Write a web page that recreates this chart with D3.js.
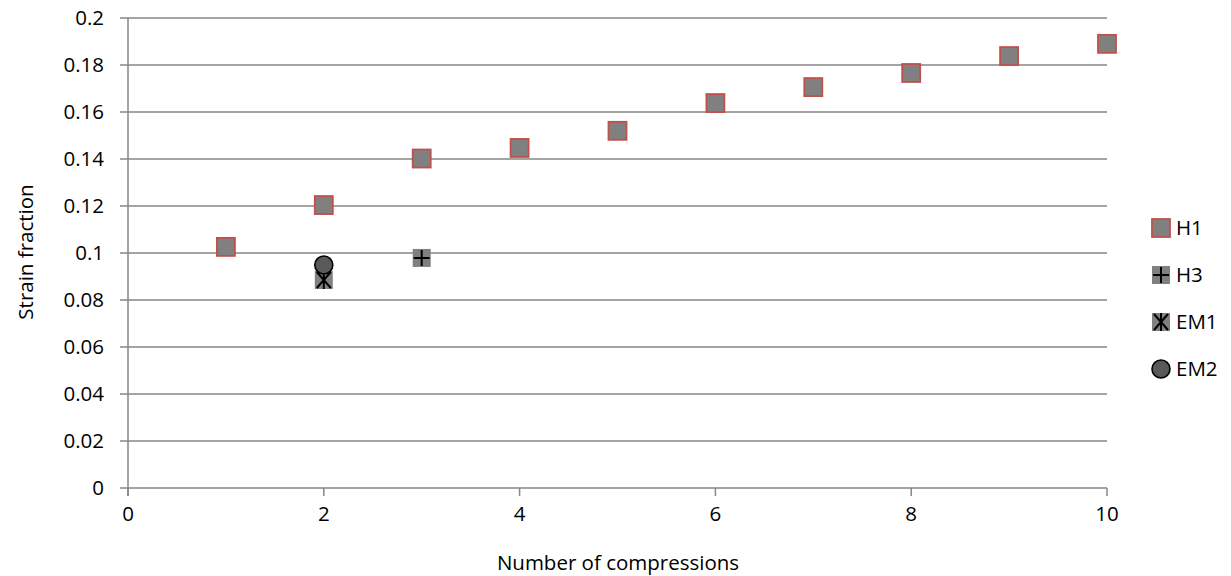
<!DOCTYPE html>
<html>
<head>
<meta charset="utf-8">
<script src="https://cdn.jsdelivr.net/npm/d3@7"></script>
<style>
  body { margin: 0; background: #fff; }
  text { font-family: "Open Sans", "Liberation Sans", sans-serif; fill: #000; }
</style>
</head>
<body>
<svg width="1231" height="576"></svg>
<script>
// data
var h1X = [1, 2, 3, 4, 5, 6, 7, 8, 9, 10];
var h1Y = [0.1026, 0.1204, 0.1402, 0.1447, 0.152, 0.1638, 0.1706, 0.1766, 0.1838, 0.189];
var h3X = [3];
var h3Y = [0.0979];
var em1X = [2];
var em1Y = [0.0885];
var em2X = [2];
var em2Y = [0.0949];
var xTicks = [0, 2, 4, 6, 8, 10];
var yTicks = [0, 0.02, 0.04, 0.06, 0.08, 0.1, 0.12, 0.14, 0.16, 0.18, 0.2];
var seriesNames = ["H1", "H3", "EM1", "EM2"];

var svg = d3.select("svg");
var plotLeft = 128, plotRight = 1107, plotTop = 18, plotBottom = 488;
var fs = 20.5;

var x = d3.scaleLinear().domain([0, 10]).range([plotLeft, plotRight]);
var y = d3.scaleLinear().domain([0, 0.2]).range([plotBottom, plotTop]);

var gridColor = "#868686";

// 横グリッド
svg.append("g").selectAll("line").data(yTicks).enter().append("line")
  .attr("x1", plotLeft - 8).attr("x2", plotRight)
  .attr("y1", function(d) { return y(d); }).attr("y2", function(d) { return y(d); })
  .attr("stroke", gridColor).attr("stroke-width", 1.5);

// y軸
svg.append("line").attr("x1", plotLeft).attr("x2", plotLeft).attr("y1", plotTop).attr("y2", plotBottom + 8)
  .attr("stroke", gridColor).attr("stroke-width", 1.5);

// x目盛り
svg.append("g").selectAll("line").data(xTicks).enter().append("line")
  .attr("x1", function(d) { return x(d); }).attr("x2", function(d) { return x(d); })
  .attr("y1", plotBottom).attr("y2", plotBottom + 8)
  .attr("stroke", gridColor).attr("stroke-width", 1.5);

// 目盛りラベル
svg.append("g").selectAll("text").data(yTicks).enter().append("text")
  .attr("x", plotLeft - 24).attr("y", function(d) { return y(d); })
  .attr("dy", "0.35em").attr("text-anchor", "end").attr("font-size", fs)
  .text(function(d) { return String(+d.toFixed(2)); });

svg.append("g").selectAll("text").data(xTicks).enter().append("text")
  .attr("x", function(d) { return x(d); }).attr("y", plotBottom + 33)
  .attr("text-anchor", "middle").attr("font-size", fs)
  .text(function(d) { return d; });

// 軸タイトル
svg.append("text").attr("x", 618).attr("y", 570)
  .attr("text-anchor", "middle").attr("font-size", fs).text("Number of compressions");
svg.append("text").attr("transform", "translate(33,252) rotate(-90)")
  .attr("text-anchor", "middle").attr("font-size", fs).text("Strain fraction");

// マーカー描画関数
function drawMarker(g, type) {
  if (type === "H1") {
    g.append("rect").attr("x", -9).attr("y", -9).attr("width", 18).attr("height", 18)
      .attr("fill", "#808080").attr("stroke", "#c0504d").attr("stroke-width", 1.8);
  } else if (type === "H3") {
    g.append("rect").attr("x", -9).attr("y", -9).attr("width", 18).attr("height", 18)
      .attr("fill", "#808080");
    g.append("path").attr("d", "M-8,0L8,0M0,-8L0,8").attr("stroke", "#000").attr("stroke-width", 2);
  } else if (type === "EM1") {
    g.append("rect").attr("x", -9).attr("y", -9).attr("width", 18).attr("height", 18)
      .attr("fill", "#808080");
    g.append("path").attr("d", "M-7,-8L7,8M-7,8L7,-8M0,-9L0,9").attr("stroke", "#000").attr("stroke-width", 2);
  } else {
    g.append("circle").attr("r", 9).attr("fill", "#595959").attr("stroke", "#000").attr("stroke-width", 1.6);
  }
}

function plot(xs, ys, type) {
  svg.append("g").selectAll("g").data(xs).enter().append("g")
    .attr("transform", function(d, i) { return "translate(" + x(d) + "," + y(ys[i]) + ")"; })
    .each(function() { drawMarker(d3.select(this), type); });
}

plot(h1X, h1Y, "H1");
plot(h3X, h3Y, "H3");
plot(em1X, em1Y, "EM1");
plot(em2X, em2Y, "EM2");

// 凡例
var legendY = [228, 275, 322, 369];
var legend = svg.append("g").selectAll("g").data(seriesNames).enter().append("g")
  .attr("transform", function(d, i) { return "translate(1161," + legendY[i] + ")"; });
legend.each(function(d) { drawMarker(d3.select(this), d); });
legend.append("text").attr("x", 15).attr("dy", "0.35em").attr("font-size", fs)
  .text(function(d) { return d; });
</script>
</body>
</html>
